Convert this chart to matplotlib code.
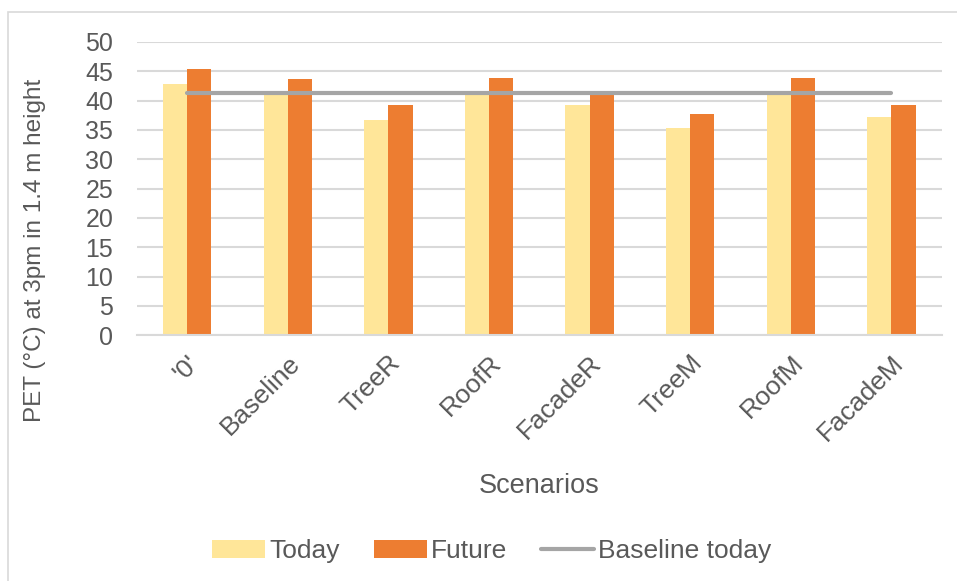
import matplotlib.pyplot as plt
import numpy as np
from matplotlib.patches import Rectangle

# PET at 3pm, 1.4 m height, per scenario
scenarios = ["'0'", "Baseline", "TreeR", "RoofR", "FacadeR", "TreeM", "RoofM", "FacadeM"]
today = [42.8, 41.2, 36.6, 41.1, 39.2, 35.4, 41.1, 37.2]
future = [45.3, 43.6, 39.2, 43.8, 41.0, 37.7, 43.8, 39.2]
baseline_today = 41.2

TEXT = "#595959"
GRID = "#d9d9d9"


def main():
    plt.rcParams["font.family"] = ["Liberation Sans", "DejaVu Sans"]
    fig = plt.figure(figsize=(9.57, 5.81), dpi=100)
    ax = fig.add_axes([0.143, 0.423, 0.841, 0.505])

    x = np.arange(len(scenarios))
    w = 0.24
    b1 = ax.bar(x - w / 2, today, w, color="#FFE699", label="Today", zorder=2)
    b2 = ax.bar(x + w / 2, future, w, color="#ED7D31", label="Future", zorder=2)
    ln, = ax.plot([x[0], x[-1]], [baseline_today] * 2, color="#A5A5A5", lw=3,
                  solid_capstyle="round", label="Baseline today", zorder=3)

    ax.set_xlim(-0.5, len(scenarios) - 0.5)
    ax.set_ylim(0, 50)
    ax.set_yticks(range(0, 51, 5))
    ax.yaxis.grid(True, color=GRID, lw=1.5, zorder=0)
    ax.set_axisbelow(True)
    for s in ["top", "right", "left"]:
        ax.spines[s].set_visible(False)
    ax.spines["bottom"].set_color(GRID)
    ax.spines["bottom"].set_linewidth(1.5)
    ax.tick_params(length=0, colors=TEXT)
    ax.tick_params(axis="y", pad=17, labelsize=18)
    ax.tick_params(axis="x", pad=11, labelsize=19)
    ax.set_xticks(x)
    ax.set_xticklabels(scenarios, rotation=45, ha="right", rotation_mode="anchor")

    ax.set_xlabel("Scenarios", fontsize=19.5, color=TEXT, labelpad=20)
    ax.set_ylabel("PET (°C) at 3pm in 1.4 m height", fontsize=17.5, color=TEXT,
                  va="center", ha="center")
    ax.yaxis.set_label_coords(-0.127, 0.29)

    fig.legend([b1, b2, ln], ["Today", "Future", "Baseline today"],
               loc="center", bbox_to_anchor=(0.514, 0.051), ncol=3, frameon=False,
               fontsize=19, labelcolor=TEXT, handlelength=2.0, handletextpad=0.15,
               columnspacing=1.3)

    # light frame around the chart area
    fig.patches.append(Rectangle((0.008, -0.01), 1.2, 0.99, transform=fig.transFigure,
                                 fill=False, edgecolor=GRID, lw=1.2))

    fig.savefig("out.png", dpi=100)


if __name__ == "__main__":
    main()
